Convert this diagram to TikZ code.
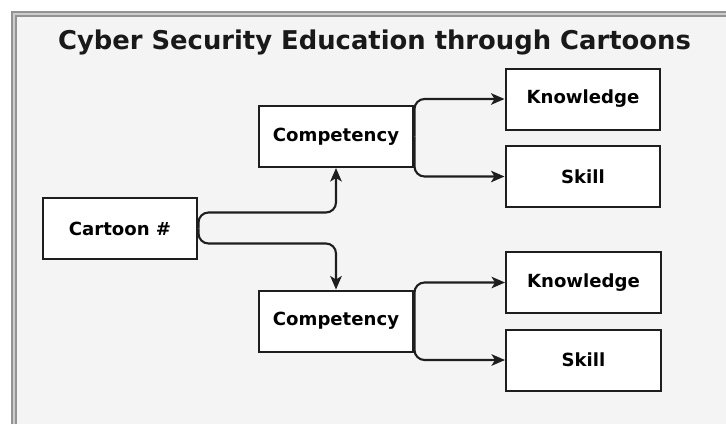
\documentclass[tikz,border=0pt]{standalone}
\usepackage{fontspec}
\setmainfont{DejaVu Sans}
\usetikzlibrary{arrows.meta}

\definecolor{panel}{HTML}{F4F4F4}
\definecolor{edge}{HTML}{1E1E1E}

\begin{document}
\begin{tikzpicture}[x=0.02cm, y=-0.02cm,
	box/.style={draw=edge, line width=0.04cm, fill=white, minimum width=3.1cm, minimum height=1.22cm, inner sep=0pt, text=black, font=\fontsize{10.3}{12}\selectfont\bfseries},
	link/.style={draw=edge, line width=0.042cm, rounded corners=0.2cm, -{Stealth[length=0.27cm, width=0.23cm, inset=0.07cm]}}]
			\useasboundingbox (0,0) rectangle (726,424);
			% frame
			\fill[white] (0,0) rectangle (726,424);
			\fill[gray!40] (11,11) rectangle (726,424);
			\fill[panel] (17,17) rectangle (726,424);
			\draw[gray!85, line width=0.03cm] (12,424) -- (12,12) -- (726,12);
			\draw[gray!85, line width=0.03cm] (16,424) -- (16,16) -- (726,16);
			\node[anchor=base, text=black!90, font=\fontsize{14.7}{17}\selectfont\bfseries] (title) at (374.5,49) {Cyber Security Education through Cartoons};
			% boxes
			\node[box] (cartoon) at (120,228.5) {Cartoon \#};
			\node[box] (comp1) at (336,136.5) {Competency};
			\node[box] (comp2) at (336,321) {Competency};
			\node[box] (know1) at (583,99) {Knowledge};
			\node[box] (skill1) at (583,176.5) {Skill};
			\node[box] (know2) at (583.5,282.5) {Knowledge};
			\node[box] (skill2) at (583.5,360) {Skill};
			% links
			\draw[link] (cartoon.east) -- ++(0,-16) -| (comp1.south);
			\draw[link] (cartoon.east) -- ++(0,15) -| (comp2.north);
			\draw[link] (comp1.east) |- (know1.west);
			\draw[link] (comp1.east) |- (skill1.west);
			\draw[link] (comp2.east) |- (know2.west);
			\draw[link] (comp2.east) |- (skill2.west);
		\end{tikzpicture}
\end{document}
